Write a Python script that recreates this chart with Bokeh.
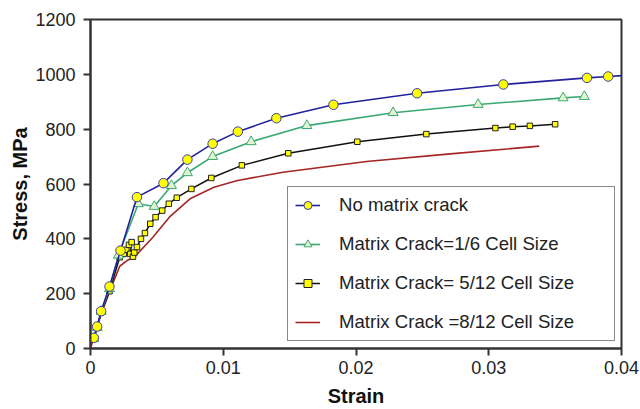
from bokeh.plotting import figure
from bokeh.models import Range1d, FixedTicker, Legend, LegendItem
from bokeh.embed import file_html
from bokeh.resources import INLINE

# Data
blue_x = [0.00025, 0.0005, 0.0008, 0.00143, 0.00226, 0.0035, 0.0055, 0.0073, 0.0092, 0.0111,
          0.0140, 0.0183, 0.0246, 0.0311, 0.0374, 0.0390]
blue_y = [39, 80, 136, 226, 357, 552, 603, 689, 747, 791, 840, 889, 931, 963, 987, 992]
blue_tail_x = [0.0390, 0.0405]
blue_tail_y = [992, 997]

green_x = [0.00025, 0.0005, 0.0008, 0.00143, 0.0021, 0.0036, 0.0048, 0.0061, 0.0073, 0.0092,
           0.0121, 0.0163, 0.0228, 0.0292, 0.0356, 0.0372]
green_y = [36, 76, 135, 218, 340, 528, 518, 594, 641, 700, 754, 813, 860, 890, 914, 919]

black_x = [0.00025, 0.0005, 0.0008, 0.00143, 0.0022, 0.0025, 0.0027, 0.0029, 0.0031, 0.0030,
           0.0032, 0.0033, 0.0035, 0.0038, 0.0041, 0.0045, 0.0049, 0.0054, 0.0059, 0.0065,
           0.0076, 0.0091, 0.0114, 0.0149, 0.0201, 0.0253, 0.0305, 0.0318, 0.0331, 0.0350]
black_y = [35, 76, 133, 209, 333, 345, 360, 378, 388, 345, 335, 350, 370, 400, 421, 455, 479,
           503, 528, 550, 582, 622, 668, 712, 754, 782, 804, 809, 812, 818]

red_x = [0.0, 0.0008, 0.0015, 0.0022, 0.0028, 0.0034, 0.0047, 0.0060, 0.0075, 0.0093, 0.0110,
         0.0145, 0.0208, 0.0271, 0.0338]
red_y = [0, 125, 215, 300, 322, 338, 406, 482, 546, 588, 612, 643, 682, 710, 738]

x_ticks = [0, 0.01, 0.02, 0.03, 0.04]
x_tick_labels = ["0", "0.01", "0.02", "0.03", "0.04"]
y_ticks = [0, 200, 400, 600, 800, 1000, 1200]

labels = ["No matrix crack", "Matrix Crack=1/6 Cell Size",
          "Matrix Crack= 5/12 Cell Size", "Matrix Crack =8/12 Cell Size"]

FONT = "Liberation Sans"
AX = "#333333"

p = figure(width=640, height=409, output_backend="svg", toolbar_location=None,
           x_range=Range1d(0, 0.04), y_range=Range1d(0, 1200),
           min_border_left=90, min_border_right=19, min_border_top=19, min_border_bottom=61)
p.background_fill_color = "white"
p.border_fill_color = "white"
p.outline_line_color = AX
p.outline_line_width = 2
p.xgrid.visible = False
p.ygrid.visible = False

for ax in (p.xaxis[0], p.yaxis[0]):
    ax.axis_line_color = AX
    ax.axis_line_width = 2
    ax.major_tick_line_color = AX
    ax.major_tick_line_width = 2
    ax.major_tick_out = 7
    ax.major_tick_in = 0
    ax.minor_tick_line_color = None
    ax.major_label_text_font = FONT
    ax.major_label_text_font_size = "18px"
    ax.major_label_text_color = "#222222"
    ax.axis_label_text_font = FONT
    ax.axis_label_text_font_style = "bold"
    ax.axis_label_text_font_size = "20px"
    ax.axis_label_text_color = "#111111"

p.xaxis.ticker = FixedTicker(ticks=x_ticks)
p.xaxis.major_label_overrides = {t: l for t, l in zip(x_ticks, x_tick_labels)}
p.yaxis.ticker = FixedTicker(ticks=y_ticks)
p.xaxis.axis_label = "Strain"
p.yaxis.axis_label = "Stress, MPa"
p.xaxis.major_label_standoff = 5
p.xaxis.axis_label_standoff = 8
p.yaxis.major_label_standoff = 8
p.yaxis.axis_label_standoff = 1

BLUE = "#22229c"
GREEN = "#3aa874"
RED = "#a52525"
YEL = "#ffff00"

# red
r_red = p.line(red_x, red_y, line_color=RED, line_width=1.6)
# black
r_bl = p.line(black_x, black_y, line_color="#111111", line_width=1.5)
r_bs = p.scatter(black_x, black_y, marker="square", size=5.5, fill_color=YEL,
                 line_color="#222222", line_width=1)
# green
r_gl = p.line(green_x, green_y, line_color=GREEN, line_width=1.6)
r_gs = p.scatter(green_x, green_y, marker="triangle", size=10, fill_color="#e4f3cf",
                 line_color=GREEN, line_width=1)
# blue
r_bt = p.line(blue_tail_x, blue_tail_y, line_color=BLUE, line_width=1.6)
r_bll = p.line(blue_x, blue_y, line_color=BLUE, line_width=1.6)
r_bls = p.scatter(blue_x, blue_y, marker="circle", size=9.5, fill_color=YEL,
                  line_color="#3c3ca8", line_width=1)

legend = Legend(items=[
    LegendItem(label=labels[0], renderers=[r_bll, r_bls]),
    LegendItem(label=labels[1], renderers=[r_gl, r_gs]),
    LegendItem(label=labels[2], renderers=[r_bl, r_bs]),
    LegendItem(label=labels[3], renderers=[r_red]),
], location=(197, 7))
legend.label_text_font = FONT
legend.label_text_font_size = "18.6px"
legend.label_text_color = "#222222"
legend.label_height = 20
legend.glyph_height = 20
legend.glyph_width = 25
legend.label_standoff = 19
legend.label_width = 268
legend.spacing = 17
legend.padding = 7
legend.margin = 0
legend.border_line_color = "#111111"
legend.border_line_width = 1.5
legend.background_fill_color = "white"
legend.background_fill_alpha = 1
p.add_layout(legend, "center")

open("out.html", "w").write(file_html(p, INLINE))
